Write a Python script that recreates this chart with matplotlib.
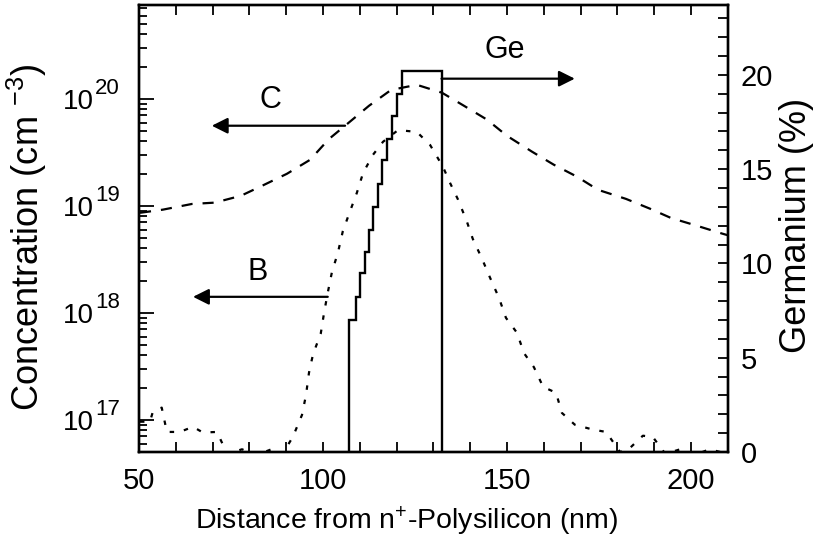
import numpy as np
import matplotlib.pyplot as plt
from matplotlib.ticker import LogLocator, MultipleLocator, NullFormatter

plt.rcParams['font.family'] = ['Liberation Sans', 'DejaVu Sans']
plt.rcParams['mathtext.fontset'] = 'custom'
plt.rcParams['mathtext.rm'] = 'Liberation Sans'
plt.rcParams['mathtext.default'] = 'regular'

# carbon profile (cm^-3) vs depth (nm)
c_x = [50.3, 56.5, 64.4, 70.6, 77.7, 84.0, 90.2, 96.5, 101.6, 107.3, 112.5,
       118.5, 125.5, 132.3, 138.3, 144.5, 150.0, 156.8, 162.7, 169.0, 174.7,
       182.3, 188.8, 194.5, 201.6, 208.4, 210.0]
c_y = [8.6e18, 9.2e18, 1.04e19, 1.07e19, 1.24e19, 1.57e19, 1.99e19, 2.69e19,
       4.2e19, 6.1e19, 8.6e19, 1.21e20, 1.35e20, 1.14e20, 8.6e19, 6.4e19,
       4.5e19, 3.2e19, 2.42e19, 1.87e19, 1.41e19, 1.16e19, 9.4e18, 7.7e18,
       6.5e18, 5.5e18, 5.3e18]

# boron profile (cm^-3)
b_x = [50.3, 53.0, 53.8, 56.2, 57.6, 61.1, 64.7, 67.4, 71.2, 74.0, 78.0,
       82.0, 86.0, 89.0, 91.8, 94.3, 95.4, 96.2, 97.3, 99.4, 100.3, 101.3,
       102.4, 104.1, 105.4, 107.3, 109.2, 110.9, 113.6, 116.3, 120.4, 125.5,
       129.1, 132.6, 134.5, 136.7, 139.1, 140.7, 143.2, 145.4, 147.8, 149.7,
       152.7, 154.6, 157.3, 159.8, 163.3, 164.9, 168.4, 173.3, 176.9, 180.7,
       183.0, 186.9, 189.6, 193.0, 197.0, 201.0, 205.0, 210.0]
b_y = [9.6e16, 9.6e16, 1.19e17, 1.3e17, 7.7e16, 7.7e16, 8.6e16, 7.6e16,
       7.7e16, 4.8e16, 5.3e16, 4.7e16, 5.3e16, 4.8e16, 6.9e16, 1.11e17,
       1.71e17, 2.75e17, 4.1e17, 6.4e17, 1.0e18, 1.54e18, 2.37e18, 3.7e18,
       5.8e18, 8.8e18, 1.32e19, 2.03e19, 3.0e19, 3.96e19, 5.1e19, 4.9e19,
       3.7e19, 2.31e19, 1.64e19, 1.14e19, 7.1e18, 4.9e18, 3.2e18, 2.12e18,
       1.38e18, 8.97e17, 6.5e17, 4.2e17, 3.1e17, 2.03e17, 1.79e17, 1.16e17,
       9.0e16, 8.1e16, 7.7e16, 5.0e16, 5.3e16, 7.1e16, 6.9e16, 4.8e16,
       5.3e16, 4.7e16, 5.3e16, 4.8e16]

# germanium step profile (%)
ge_edges = [107.1, 108.9, 110.1, 111.3, 112.4, 113.6, 114.9, 116.1, 117.4,
            118.7, 120.0, 121.4, 132.2]
ge_vals = [7.0, 8.2, 9.5, 10.6, 11.8, 13.0, 14.2, 15.5, 16.6, 17.8, 19.0, 20.2]

decades = [17, 18, 19, 20]

FS = 21

fig = plt.figure(figsize=(8.17, 5.41), dpi=100)
ax = fig.add_axes([0.170, 0.1645, 0.721, 0.826])
ax2 = ax.twinx()

ax.plot(c_x, c_y, color='k', lw=1.6, ls=(0, (5, 4.5)))
ax.plot(b_x, b_y, color='k', lw=1.6, ls=(0, (2, 4.5)))
ax.set_yscale('log')
ax.set_xlim(50, 210)
ax.set_ylim(5e16, 7.5e20)

ax2.stairs(ge_vals, ge_edges, baseline=0, color='k', lw=1.7)
ax2.set_ylim(0, 23.7)

# arrows and labels
arrow = dict(arrowstyle='-|>', color='k', lw=1.6, mutation_scale=24,
             shrinkA=0, shrinkB=0)
ax.annotate('', xy=(69.8, 5.6e19), xytext=(106.0, 5.6e19), arrowprops=arrow)
ax.annotate('', xy=(64.7, 1.41e18), xytext=(101.3, 1.41e18), arrowprops=arrow)
ax2.annotate('', xy=(168.4, 19.8), xytext=(132.2, 19.8), arrowprops=arrow)
ax.text(85.6, 9.8e19, 'C', fontsize=FS + 1, ha='center', va='center')
ax.text(82.3, 2.4e18, 'B', fontsize=FS + 1, ha='center', va='center')
ax2.text(149.4, 21.3, 'Ge', fontsize=FS + 1, ha='center', va='center')

# ticks
ax.xaxis.set_major_locator(MultipleLocator(50))
ax.xaxis.set_minor_locator(MultipleLocator(10))
ax.yaxis.set_major_locator(LogLocator(base=10, numticks=10))
ax.yaxis.set_minor_locator(LogLocator(base=10, subs=np.arange(2, 10), numticks=20))
ax.yaxis.set_minor_formatter(NullFormatter())
ax.yaxis.set_major_formatter(NullFormatter())
ax.tick_params(axis='x', which='both', direction='in', top=True, labelsize=FS, pad=11)
ax.tick_params(axis='x', which='both', length=7, width=1.3)
ax.tick_params(axis='y', which='both', direction='in')
ax.tick_params(axis='y', which='major', length=11, width=1.3)
ax.tick_params(axis='y', which='minor', length=6, width=1.3)
ax2.yaxis.set_major_locator(MultipleLocator(5))
ax2.yaxis.set_minor_locator(MultipleLocator(1))
ax2.tick_params(axis='y', which='both', direction='in', labelsize=FS, pad=9,
                length=7, width=1.3)

# decade labels with large exponents
ytr = ax.get_yaxis_transform()
for d in decades:
    ax.annotate('10', xy=(0, 10.0 ** d), xycoords=ytr, xytext=(-45, -10),
                textcoords='offset pixels', fontsize=FS - 1, ha='right', va='baseline')
    ax.annotate(str(d), xy=(0, 10.0 ** d), xycoords=ytr, xytext=(-44, 5),
                textcoords='offset pixels', fontsize=FS - 5, ha='left', va='baseline')

for a in (ax, ax2):
    for s in a.spines.values():
        s.set_linewidth(1.7)

ax.set_xlabel('Distance from n$^{+}$-Polysilicon (nm)', fontsize=FS - 0.5)
ax.xaxis.set_label_coords(0.455, -0.118)
ax.set_ylabel('Concentration (cm $^{-3}$)', fontsize=26)
ax.yaxis.set_label_coords(-0.153, 0.48)
ax2.set_ylabel('Germanium (%)', fontsize=26)
ax2.yaxis.set_label_coords(1.086, 0.506)

fig.savefig('out.png', dpi=100)
